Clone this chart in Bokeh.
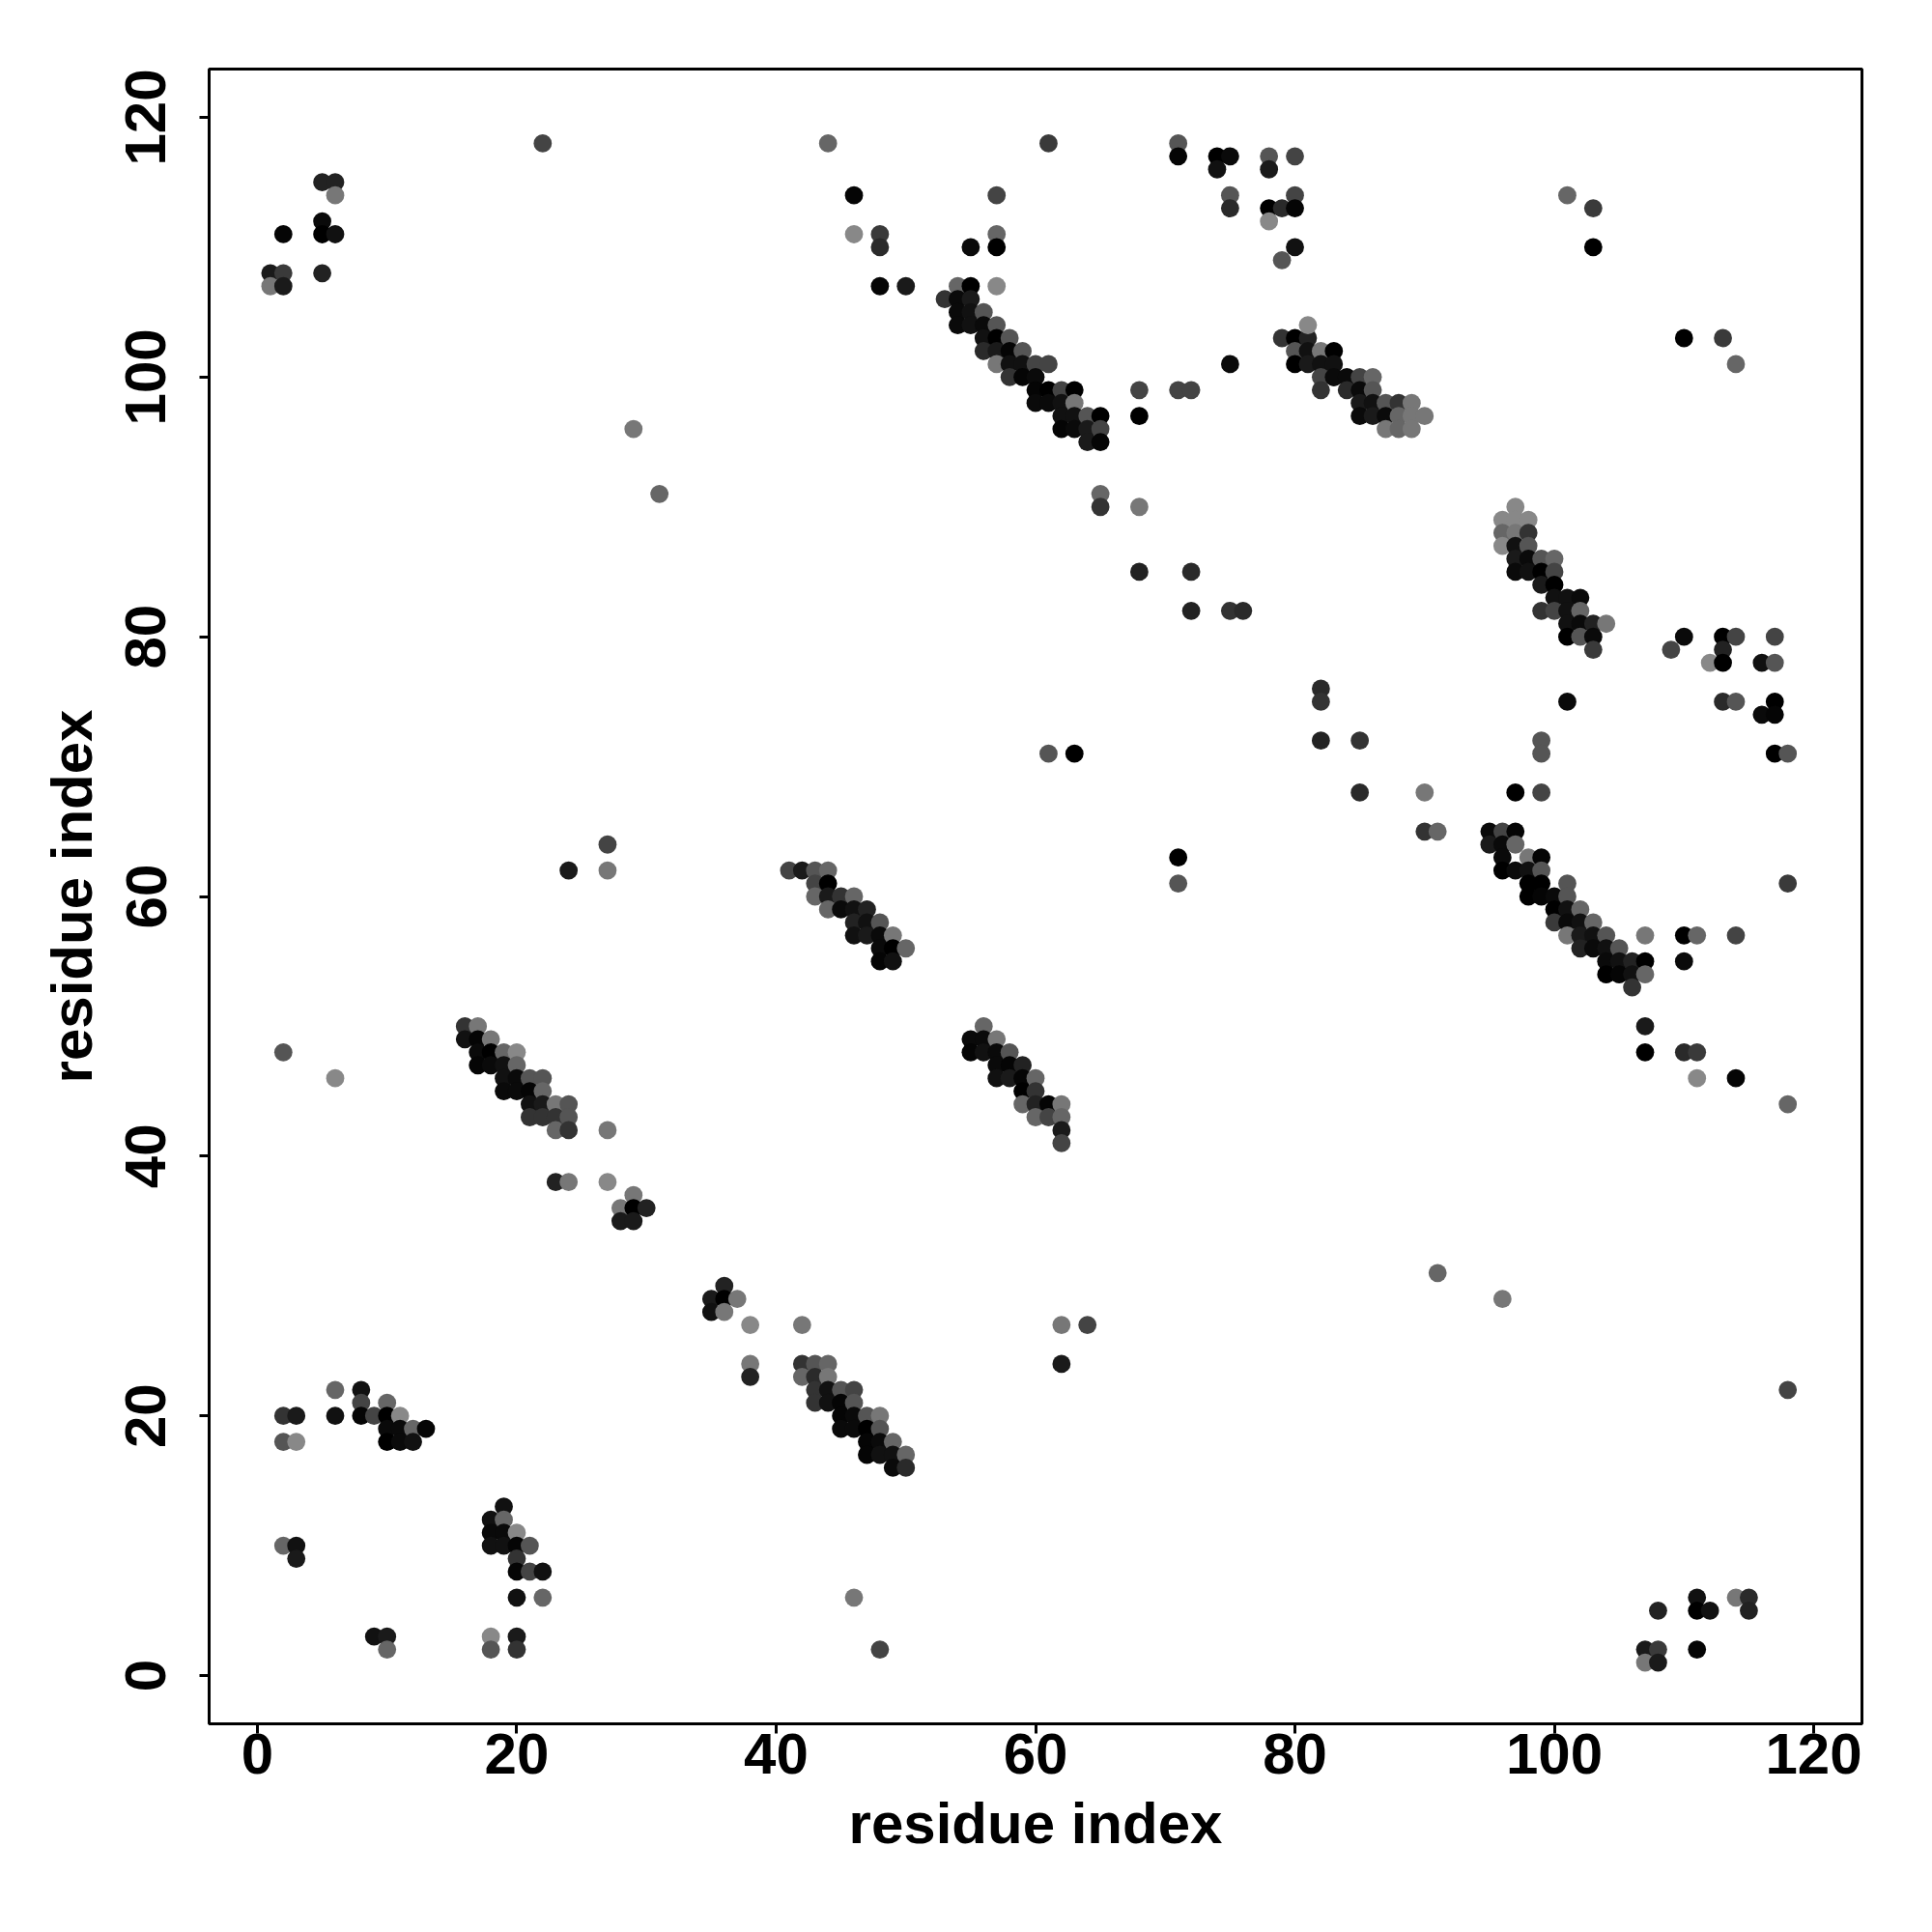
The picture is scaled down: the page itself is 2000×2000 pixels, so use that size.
from bokeh.plotting import figure
from bokeh.models import Range1d, FixedTicker
from bokeh.embed import file_html
from bokeh.resources import INLINE

# Contact map: residue i (x), residue j (y), grey level of the dot (0 = black)
# --- upper-left corner cluster ---
ul_i = [22, 5, 6, 6, 5, 2, 5, 6, 1, 2, 5, 1, 2, 29, 31]
ul_j = [118, 115, 115, 114, 112, 111, 111, 111, 108, 108, 108, 107, 107, 96, 91]
ul_g = [68, 34, 34, 119, 10, 5, 0, 17, 26, 58, 34, 119, 26, 119, 102]

# --- top middle scattered contacts ---
tm_i = [44, 61, 71, 71, 74, 75, 74, 78, 78, 80, 46, 57, 75, 75, 80, 78, 79, 80, 78, 46, 48, 48, 57, 55, 57, 80, 79]
tm_j = [118, 118, 118, 117, 117, 117, 116, 117, 116, 117, 114, 114, 114, 113, 114, 113, 113, 113, 112, 111, 111, 110, 111, 110, 110, 110, 109]
tm_g = [102, 58, 85, 5, 0, 10, 17, 85, 26, 68, 5, 68, 85, 42, 68, 0, 42, 5, 136, 136, 58, 42, 102, 10, 0, 17, 85]

# --- strand band 53-65 x 95-107 ---
b1_i = [48, 50, 54, 55, 57, 53, 54, 55, 54, 55, 56, 54, 55, 56, 57, 56, 57, 58, 56, 57, 58, 59, 57, 58, 59, 60, 61,
        58, 59, 60, 60, 61, 62, 63, 60, 61, 62, 63, 62, 63, 64, 65, 62, 63, 64, 65, 64, 65]
b1_j = [107, 107, 107, 107, 107, 106, 106, 106, 105, 105, 105, 104, 104, 104, 104, 103, 103, 103, 102, 102, 102, 102,
        101, 101, 101, 101, 101,
        100, 100, 100, 99, 99, 99, 99, 98, 98, 98, 98, 97, 97, 97, 97, 96, 96, 96, 96, 95, 95]
b1_g = [5, 26, 102, 0, 136, 51, 10, 26, 10, 17, 85, 10, 17, 10, 85, 17, 0, 85, 42, 26, 5, 85, 119, 17, 17, 68, 68,
        51, 5, 10, 5, 0, 68, 0, 10, 10, 17, 119, 17, 17, 85, 0, 5, 10, 26, 68, 26, 5]

# --- scattered 65-76 x 82-101 ---
s1_i = [68, 68, 71, 72, 75, 65, 65, 68, 68, 72, 72, 75, 76]
s1_j = [99, 97, 99, 99, 101, 91, 90, 90, 85, 85, 82, 82, 82]
s1_g = [68, 0, 68, 68, 10, 102, 51, 119, 34, 42, 34, 51, 42]

# --- strand band 79-90 x 96-104 ---
b2_i = [79, 80, 81, 81, 80, 81, 82, 83, 80, 81, 82, 83, 82, 82,
        83, 83, 84, 85, 86, 84, 85, 86, 85, 86, 87, 88, 89, 85, 86, 87, 88, 89, 90, 87, 88, 89]
b2_j = [103, 103, 103, 104, 102, 102, 102, 102, 101, 101, 101, 100, 100, 99,
        101, 100, 100, 100, 100, 99, 99, 99, 98, 98, 98, 98, 98, 97, 97, 97, 97, 97, 97, 96, 96, 96]
b2_g = [51, 0, 34, 136, 85, 17, 119, 0, 0, 26, 17, 0, 68, 51,
        17, 10, 10, 68, 102, 42, 10, 85, 26, 17, 85, 51, 119, 10, 26, 10, 102, 119, 119, 119, 102, 119]

# --- top right scattered ---
tr_i = [101, 103, 103, 110, 113, 114]
tr_j = [114, 113, 110, 103, 103, 101]
tr_g = [102, 58, 0, 0, 58, 102]

# --- strand band 96-104 x 80-90 ---
b3_i = [97, 96, 97, 98, 96, 97, 98, 96, 97, 98, 97, 98, 99, 100, 97, 98, 99, 100, 99, 100, 100, 101, 102,
        99, 100, 101, 102, 101, 102, 103, 104, 101, 102, 103]
b3_j = [90, 89, 89, 89, 88, 88, 88, 87, 87, 87, 86, 86, 86, 86, 85, 85, 85, 85, 84, 84, 83, 83, 83,
        82, 82, 82, 82, 81, 81, 81, 81, 80, 80, 80]
b3_g = [136, 136, 136, 136, 102, 119, 51, 136, 17, 85, 26, 10, 85, 102, 10, 17, 0, 68, 26, 0, 17, 17, 10,
        51, 68, 17, 102, 17, 10, 34, 119, 0, 85, 10]

# --- right side scattered 85-118 x 65-80 ---
r1_i = [110, 113, 114, 117, 103, 109, 113, 112, 113, 116, 117, 101, 113, 114, 117, 116, 117, 85, 99, 99, 117, 118,
        85, 90, 97, 99, 90, 91]
r1_j = [80, 80, 80, 80, 79, 79, 79, 78, 78, 78, 78, 75, 75, 75, 75, 74, 74, 72, 72, 71, 71, 71,
        68, 68, 68, 68, 65, 65]
r1_g = [10, 0, 68, 68, 58, 68, 34, 136, 0, 17, 85, 10, 42, 85, 0, 10, 5, 51, 85, 85, 0, 85,
        42, 119, 0, 68, 51, 102]

# --- strand band 95-107 x 53-65 ---
b4_i = [95, 96, 97, 95, 96, 97, 96, 98, 99, 96, 97, 98, 99, 98, 99, 101, 98, 99, 100, 101, 100, 101, 102,
        100, 101, 102, 103, 101, 102, 103, 104, 102, 103, 104, 105, 104, 105, 106, 107, 104, 105, 106, 107, 106]
b4_j = [65, 65, 65, 64, 64, 64, 63, 63, 63, 62, 62, 62, 62, 61, 61, 61, 60, 60, 60, 60, 59, 59, 59,
        58, 58, 58, 58, 57, 57, 57, 57, 56, 56, 56, 56, 55, 55, 55, 55, 54, 54, 54, 54, 53]
b4_g = [10, 68, 5, 26, 10, 102, 10, 119, 5, 0, 10, 17, 85, 0, 0, 85, 0, 5, 10, 85, 0, 17, 102,
        58, 10, 17, 102, 119, 26, 17, 85, 34, 10, 17, 85, 10, 17, 34, 0, 0, 5, 17, 102, 51]

# --- right side scattered 107-118 x 44-61 ---
r2_i = [107, 110, 111, 114, 110, 118, 107, 107, 110, 111, 111, 114, 118]
r2_j = [57, 57, 57, 57, 55, 61, 50, 48, 48, 48, 46, 46, 44]
r2_g = [119, 0, 102, 68, 10, 58, 26, 0, 42, 58, 136, 5, 102]

# --- left middle: band 16-24 x 42-50 and neighbours ---
b5_i = [27, 24, 27, 2, 6, 16, 17, 16, 17, 18, 17, 18, 19, 20, 17, 18, 19, 20, 19, 20, 21, 22, 19, 20, 21, 22,
        21, 22, 23, 24, 21, 22, 23, 24, 23, 24, 27, 23, 24, 27, 29]
b5_j = [64, 62, 62, 48, 46, 50, 50, 49, 49, 49, 48, 48, 48, 48, 47, 47, 47, 47, 46, 46, 46, 46, 45, 45, 45, 45,
        44, 44, 44, 44, 43, 43, 43, 43, 42, 42, 42, 38, 38, 38, 37]
b5_g = [68, 26, 119, 85, 136, 51, 119, 17, 5, 119, 10, 0, 102, 136, 5, 10, 17, 102, 17, 10, 85, 85, 10, 10, 5, 102,
        17, 26, 119, 85, 51, 51, 51, 85, 102, 51, 119, 34, 119, 136, 119]

# --- lower left clusters ---
ll_i = [28, 29, 30, 28, 29, 36, 35, 36, 37, 35, 36, 38, 38, 38, 6, 8, 2, 3, 6, 8, 8, 9, 10, 10, 11,
        10, 11, 12, 13, 10, 11, 12, 2, 3, 19, 18, 19, 18, 19, 20, 18, 19, 20, 21, 20, 20, 21, 22, 20, 22,
        2, 3, 3, 9, 10, 10, 18, 18, 20, 20]
ll_j = [36, 36, 36, 35, 35, 30, 29, 29, 29, 28, 28, 27, 24, 23, 22, 22, 20, 20, 20, 21, 20, 20, 21, 20, 20,
        19, 19, 19, 19, 18, 18, 18, 18, 18, 13, 12, 12, 11, 11, 11, 10, 10, 10, 10, 9, 8, 8, 8, 6, 6,
        10, 10, 9, 3, 3, 2, 3, 2, 3, 2]
ll_g = [119, 0, 34, 26, 26, 34, 26, 0, 119, 17, 119, 136, 119, 34, 102, 17, 51, 26, 17, 68, 5, 68, 102, 0, 136,
        10, 10, 102, 5, 0, 10, 17, 85, 136, 17, 17, 102, 10, 10, 136, 17, 17, 5, 85, 51, 5, 68, 17, 17, 102,
        102, 17, 26, 17, 26, 102, 136, 85, 26, 51]

# --- centre: bands 41-50 x 55-62 and 55-62 x 41-50 ---
b6_i = [82, 82, 82, 61, 63, 71, 71, 41, 42, 43, 44, 43, 44, 43, 44, 45, 46, 44, 45, 46, 47, 46, 47, 48,
        46, 47, 48, 49, 48, 49, 50, 48, 49,
        56, 55, 56, 57, 55, 56, 57, 58, 57, 58, 59, 57, 58, 59, 60, 59, 60, 59, 60, 61, 62, 60, 61, 62, 62, 62]
b6_j = [76, 75, 72, 71, 71, 63, 61, 62, 62, 62, 62, 61, 61, 60, 60, 60, 60, 59, 59, 59, 59, 58, 58, 58,
        57, 57, 57, 57, 56, 56, 56, 55, 55,
        50, 49, 49, 49, 48, 48, 48, 48, 47, 47, 47, 46, 46, 46, 46, 45, 45, 44, 44, 44, 44, 43, 43, 43, 42, 41]
b6_g = [42, 51, 34, 85, 0, 0, 85, 68, 26, 85, 102, 68, 0, 102, 26, 51, 102, 102, 10, 17, 34, 34, 17, 85,
        17, 26, 10, 119, 10, 0, 102, 5, 17,
        102, 10, 10, 119, 5, 17, 10, 85, 10, 5, 34, 17, 26, 5, 102, 0, 51, 102, 34, 5, 119, 102, 68, 102, 26, 68]

# --- lower band 42-50 x 16-24 ---
b7_i = [42, 62, 64, 62, 42, 43, 44, 42, 43, 44, 43, 44, 45, 46, 43, 44, 45, 46, 45, 46, 47, 48,
        45, 46, 47, 48, 47, 48, 49, 47, 48, 49, 50, 49, 50, 46, 48]
b7_j = [27, 27, 27, 24, 24, 24, 24, 23, 23, 23, 22, 22, 22, 22, 21, 21, 21, 21, 20, 20, 20, 20,
        19, 19, 19, 19, 18, 18, 18, 17, 17, 17, 17, 16, 16, 6, 2]
b7_g = [119, 119, 68, 26, 51, 85, 102, 102, 42, 119, 51, 17, 85, 68, 51, 17, 5, 85, 5, 10, 85, 119,
        10, 10, 0, 85, 5, 10, 102, 5, 17, 17, 102, 10, 42, 119, 68]

# --- lower right ---
lr_i = [91, 96, 118, 108, 111, 111, 112, 114, 115, 115, 107, 108, 107, 108, 111]
lr_j = [31, 29, 22, 5, 6, 5, 5, 6, 6, 5, 2, 2, 1, 1, 2]
lr_g = [102, 119, 68, 34, 17, 0, 17, 119, 42, 34, 26, 58, 119, 26, 5]

ticks = [0, 20, 40, 60, 80, 100, 120]
axis_title = "residue index"

groups = [(ul_i, ul_j, ul_g), (tm_i, tm_j, tm_g), (b1_i, b1_j, b1_g), (s1_i, s1_j, s1_g),
          (b2_i, b2_j, b2_g), (tr_i, tr_j, tr_g), (b3_i, b3_j, b3_g), (r1_i, r1_j, r1_g),
          (b4_i, b4_j, b4_g), (r2_i, r2_j, r2_g), (b5_i, b5_j, b5_g), (ll_i, ll_j, ll_g),
          (b6_i, b6_j, b6_g), (b7_i, b7_j, b7_g), (lr_i, lr_j, lr_g)]
xs, ys, colors = [], [], []
for gi, gj, gg in groups:
    assert len(gi) == len(gj) == len(gg), (len(gi), len(gj), len(gg))
    xs += gi
    ys += gj
    colors += ["#%02x%02x%02x" % (g, g, g) for g in gg]

p = figure(
    frame_width=1711, frame_height=1713,
    min_border_left=216, min_border_right=56, min_border_top=71, min_border_bottom=200,
    x_range=Range1d(-3.72, 123.72), y_range=Range1d(-3.72, 123.72),
    output_backend="svg", toolbar_location=None,
    background_fill_color="white", border_fill_color="white",
)
p.scatter(xs, ys, size=18.8, marker="circle", fill_color=colors, line_color=None)

p.grid.visible = False
p.outline_line_color = "black"
p.outline_line_width = 3

for ax in (p.xaxis, p.yaxis):
    ax.ticker = FixedTicker(ticks=ticks)
    ax.axis_line_color = None
    ax.major_tick_line_color = "black"
    ax.major_tick_line_width = 3
    ax.major_tick_out = 10
    ax.major_tick_in = 0
    ax.minor_tick_line_color = None
    ax.major_label_text_font = "Liberation Sans"
    ax.major_label_text_font_style = "bold"
    ax.major_label_text_font_size = "60px"
    ax.major_label_text_color = "black"
    ax.axis_label = axis_title
    ax.axis_label_text_font = "Liberation Sans"
    ax.axis_label_text_font_style = "bold"
    ax.axis_label_text_font_size = "60px"
    ax.axis_label_text_color = "black"

p.xaxis.major_label_standoff = 0
p.xaxis.axis_label_standoff = 15
p.yaxis.major_label_orientation = "vertical"
p.yaxis.major_label_standoff = 35
p.yaxis.axis_label_standoff = 20

open("out.html", "w").write(file_html(p, INLINE))
